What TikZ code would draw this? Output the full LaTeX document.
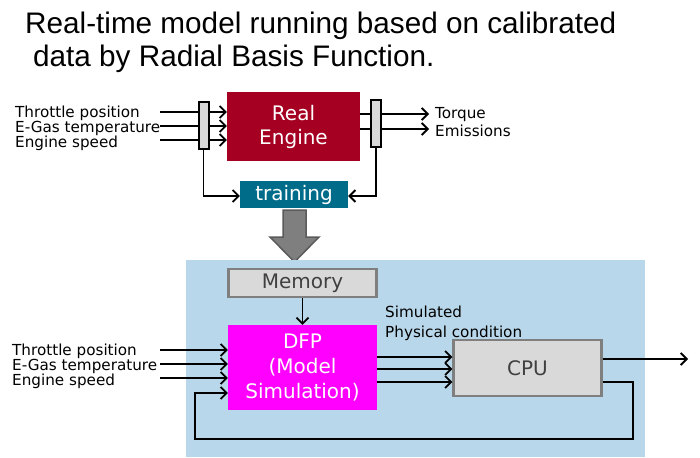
\documentclass[tikz,border=0pt]{standalone}
\usepackage{fontspec}
\setmainfont{DejaVu Sans}
\newfontfamily\titlefont{Liberation Sans}
\usetikzlibrary{arrows.meta}
\definecolor{engred}{RGB}{165,0,33}
\definecolor{trainblue}{RGB}{0,108,138}
\definecolor{bgblue}{RGB}{185,215,234}
\definecolor{boxgray}{RGB}{217,217,217}
\definecolor{edgegray}{RGB}{127,127,127}
\definecolor{textgray}{RGB}{64,64,64}
\definecolor{fatgray}{RGB}{127,127,127}
\definecolor{fatedge}{RGB}{90,90,90}
\definecolor{dfpmag}{RGB}{255,0,255}
\begin{document}
\begin{tikzpicture}[x=1pt,y=-1pt,
  arr/.style={line width=1.8pt,-{Straight Barb[length=6pt,width=12pt]}},
  lbl/.style={anchor=base west,inner sep=0pt,font=\fontsize{15.2}{16}\selectfont},
  bigtxt/.style={font=\fontsize{20}{24}\selectfont,align=center,inner sep=0pt},
  barbox/.style={draw=black,line width=2pt,fill=boxgray,minimum width=10pt,minimum height=47pt,inner sep=0pt},
  graybox/.style={draw=edgegray,line width=2.2pt,fill=boxgray,text=textgray,bigtxt}]
\useasboundingbox (0,0) rectangle (700,457);
% title
\node[anchor=base west,inner sep=0pt,font=\titlefont\fontsize{29.7}{30}\selectfont] (t1) at (25,34) {Real-time model running based on calibrated};
\node[anchor=base west,inner sep=0pt,font=\titlefont\fontsize{29.7}{30}\selectfont] (t2) at (33,67) {data by Radial Basis Function.};
% upper part
\node[lbl] (ua) at (15,117.5) {Throttle position};
\node[lbl] (ub) at (15,132.5) {E-Gas temperature};
\node[lbl] (uc) at (15,147.5) {Engine speed};
\node[fill=engred,text=white,minimum width=133pt,minimum height=69pt,bigtxt] (eng) at (293.5,126.5) {Real\\Engine};
\coordinate (ui1) at (160,112);
\coordinate (ui2) at (160,126);
\coordinate (ui3) at (160,140);
\draw[arr] (ui1) -- (ui1 -| eng.west);
\draw[arr] (ui2) -- (ui2 -| eng.west);
\draw[arr] (ui3) -- (ui3 -| eng.west);
\coordinate (uo1) at (429,114);
\coordinate (uo2) at (429,129);
\draw[arr] (uo1 -| eng.east) -- (uo1);
\draw[arr] (uo2 -| eng.east) -- (uo2);
\node[lbl] (torque) at (435,119) {Torque};
\node[lbl] (emis) at (435,137) {Emissions};
\node[fill=trainblue,text=white,minimum width=108pt,minimum height=27pt,bigtxt] (train) at (294,194.5) {training};
\node[barbox] (lbar) at (203.5,126) {};
\node[barbox] (rbar) at (376,123.5) {};
\coordinate (lb) at (203.5,196);
\coordinate (rb) at (376,196);
\draw[arr] (lbar.south) -- (lb) -- (lb -| train.west);
\draw[arr] (rbar.south) -- (rb) -- (rb -| train.east);
% big gray arrow
\draw[fill=fatgray,draw=fatedge,line width=1.5pt,line join=miter]
  (283,210) -- (306,210) -- (306,237) -- (319,237) -- (294.5,262) -- (270,237) -- (283,237) -- cycle;
% lower panel
\fill[bgblue] (186,260) rectangle (645,457);
\node[graybox,minimum width=148pt,minimum height=28pt] (mem) at (302.5,283) {Memory};
\node[fill=dfpmag,text=white,minimum width=149pt,minimum height=85pt,bigtxt,font=\fontsize{20}{25}\selectfont] (dfp) at (302.5,367.5) {DFP\\(Model\\Simulation)};
\draw[arr] (mem.south) -- (dfp.north);
\node[graybox,minimum width=148pt,minimum height=56pt] (cpu) at (527.5,368) {CPU};
\node[lbl] (la) at (12,355) {Throttle position};
\node[lbl] (lb2) at (12,370) {E-Gas temperature};
\node[lbl] (lc) at (12,385) {Engine speed};
\coordinate (li1) at (160,350);
\coordinate (li2) at (160,364);
\coordinate (li3) at (160,378);
\draw[arr] (li1) -- (li1 -| dfp.west);
\draw[arr] (li2) -- (li2 -| dfp.west);
\draw[arr] (li3) -- (li3 -| dfp.west);
\coordinate (dc1) at (377,357);
\coordinate (dc2) at (377,369);
\coordinate (dc3) at (377,382);
\draw[arr] (dc1) -- (dc1 -| cpu.west);
\draw[arr] (dc2) -- (dc2 -| cpu.west);
\draw[arr] (dc3) -- (dc3 -| cpu.west);
\node[lbl] (sim1) at (385,317.5) {Simulated};
\node[lbl] (sim2) at (385,337) {Physical condition};
\coordinate (out) at (688,359);
\draw[arr] (out -| cpu.east) -- (out);
\coordinate (fb1) at (633,382);
\coordinate (fb2) at (633,439);
\coordinate (fb3) at (195,439);
\coordinate (fb4) at (195,393);
\draw[arr] (fb1 -| cpu.east) -- (fb1) -- (fb2) -- (fb3) -- (fb4) -- (fb4 -| dfp.west);
\end{tikzpicture}
\end{document}
